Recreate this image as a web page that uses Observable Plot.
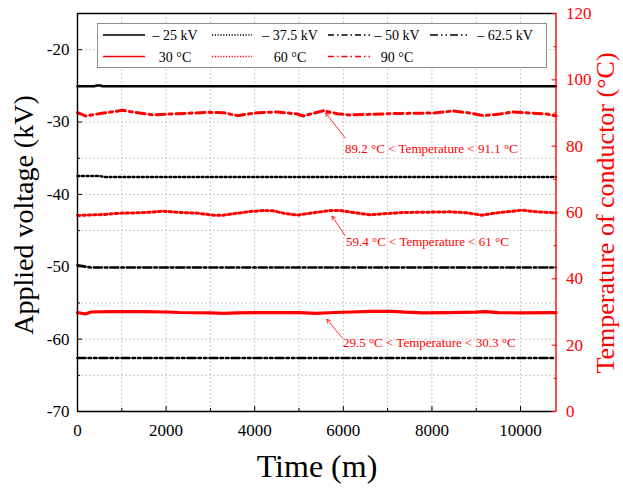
<!DOCTYPE html>
<html><head><meta charset="utf-8">
<script src="https://cdn.jsdelivr.net/npm/d3@7"></script>
<script src="https://cdn.jsdelivr.net/npm/@observablehq/plot@0.6"></script>
<style>
html,body{margin:0;padding:0;background:#fff;}
#chart{width:623px;height:490px;}
</style></head><body><div id="chart"></div>
<script>
// ---- data ----
const xMajor = [0, 2000, 4000, 6000, 8000, 10000];
const xMinor = [1000, 3000, 5000, 7000, 9000];
const yMajor = [-70, -60, -50, -40, -30, -20];
const yMinor = [-65, -55, -45, -35, -25];
const tMajor = [0, 20, 40, 60, 80, 100, 120];
const tMinor = [10, 30, 50, 70, 90, 110];

const vLabels = ["– 25 kV", "– 37.5 kV", "– 50 kV", "– 62.5 kV"];
const tLabels = ["30 °C", "60 °C", "90 °C"];

const v25Time = [0, 380, 430, 520, 560, 10800];
const v25Val  = [-25.05, -25.05, -24.95, -24.95, -25.05, -25.05];
const v375Time = [0, 500, 600, 10800];
const v375Val  = [-37.45, -37.45, -37.6, -37.6];
const v50Time = [0, 300, 10800];
const v50Val  = [-49.8, -50.1, -50.1];
const v625Time = [0, 10800];
const v625Val  = [-62.6, -62.6];

const t90Time = [0,180,586,1014,1353,1713,2097,2480,2931,3291,3607,4058,4509,4959,5095,5546,5861,6154,6605,7056,7507,8025,8476,8859,9152,9536,9829,10212,10595,10800];
const t90Val  = [90.1,89.1,90.0,90.8,90.1,89.4,89.7,89.9,90.2,90.1,89.2,90.1,90.3,89.7,89.1,90.7,89.8,89.4,89.6,89.8,89.9,90.0,90.6,90.0,89.2,89.7,90.3,90.0,89.7,89.1];

const t60Time = [0,586,969,1353,1646,1939,2322,2705,3066,3291,3607,3900,4193,4418,4644,4959,5253,5478,5703,5929,6222,6605,6988,7349,7890,8408,8792,9130,9468,9761,10032,10370,10800];
const t60Val  = [59.1,59.4,59.8,59.9,60.1,60.4,60.0,59.8,59.2,59.2,59.8,60.3,60.6,60.5,59.8,59.2,59.8,60.2,60.6,60.6,60.0,59.3,59.7,60.0,60.1,60.2,59.9,59.2,59.9,60.3,60.7,60.2,59.9];

const t30Time = [0,180,300,700,1500,2000,2300,3000,3300,3600,4000,5000,5400,5800,6200,6600,7100,7400,7800,8400,9000,9200,9500,10000,10800];
const t30Val  = [29.85,29.4,30.0,30.1,30.1,30.0,29.85,29.75,29.6,29.75,29.8,29.8,29.6,29.85,30.0,30.2,30.2,29.95,29.75,29.8,29.95,30.1,29.8,29.75,29.8];

const annText = ["89.2 °C < Temperature < 91.1 °C", "59.4 °C < Temperature < 61 °C", "29.5 °C < Temperature < 30.3 °C"];
const annTextT = [6040, 6060, 5990];
const annTextTemp = [79.2, 51.2, 20.7];
const annTailT = [6040, 6040, 5970];
const annTailTemp = [82.5, 53.0, 22.3];
const annHeadT = [5600, 5745, 5630];
const annHeadTemp = [90.0, 58.9, 27.8];

// ---- helpers ----
const toV = T => -70 + T * 55 / 120;
const toT = v => (v + 70) * 120 / 55;
const RED = "#ff0000";
const zip = (ts, vs) => ts.map((t, i) => ({t, v: vs[i]}));
const zipT = (ts, vs) => ts.map((t, i) => ({t, v: toV(vs[i])}));

const series = [
  {data: zip(v25Time, v25Val), stroke: "#000", w: 2.6, dash: null},
  {data: zip(v375Time, v375Val), stroke: "#000", w: 2.4, dash: "2,2.6"},
  {data: zip(v50Time, v50Val), stroke: "#000", w: 2.6, dash: "8,3,2.5,3"},
  {data: zip(v625Time, v625Val), stroke: "#000", w: 2.6, dash: "8,3,2.5,3,2.5,3"},
  {data: zipT(t30Time, t30Val), stroke: RED, w: 3.2, dash: null},
  {data: zipT(t60Time, t60Val), stroke: RED, w: 3, dash: "2.4,3"},
  {data: zipT(t90Time, t90Val), stroke: RED, w: 3, dash: "9,4,3,4"}
];

const ann = annText.map((s, i) => ({
  s, x: annTextT[i], y: toV(annTextTemp[i]),
  x1: annTailT[i], y1: toV(annTailTemp[i]), x2: annHeadT[i], y2: toV(annHeadTemp[i])
}));

const grid = {stroke: "#c8c8c8", strokeWidth: 1, strokeDasharray: "2,2"};

const chart = Plot.plot({
  width: 623, height: 490,
  marginLeft: 77, marginRight: 67.5, marginTop: 13, marginBottom: 79,
  style: {fontFamily: "'Liberation Serif', 'Times New Roman', serif", fontSize: "17px", background: "#fff", color: "#000"},
  x: {domain: [0, 10800]},
  y: {domain: [-70, -15]},
  marks: [
    Plot.ruleY([...yMinor, ...yMajor.filter(d => d > -70)], grid),
    Plot.ruleX([...xMinor, ...xMajor.filter(d => d > 0)], grid),
    ...series.map(s => Plot.line(s.data, {x: "t", y: "v", stroke: s.stroke, strokeWidth: s.w, strokeDasharray: s.dash})),
    Plot.ruleX([0], {stroke: "#000", strokeWidth: 1.4}),
    Plot.ruleY([-70], {stroke: "#000", strokeWidth: 1.4}),
    Plot.ruleY([-15], {stroke: "#000", strokeWidth: 1.4}),
    Plot.ruleX([10800], {stroke: RED, strokeWidth: 1.4}),
    Plot.axisX(xMajor, {anchor: "bottom", tickSize: -5, tickPadding: 17, tickFormat: d => String(d), fontSize: 17, label: null}),
    Plot.axisX(xMinor, {anchor: "bottom", tickSize: -3, tickFormat: () => "", label: null}),
    Plot.axisY(yMajor, {anchor: "left", tickSize: -5, tickPadding: 13, tickFormat: d => String(d), fontSize: 17, label: null}),
    Plot.axisY(yMinor, {anchor: "left", tickSize: -3, tickFormat: () => "", label: null}),
    Plot.axisY(tMajor.map(toV), {anchor: "right", tickSize: -5, tickPadding: 15, stroke: RED, fill: RED, tickFormat: v => String(Math.round(toT(v))), fontSize: 17, label: null}),
    Plot.axisY(tMinor.map(toV), {anchor: "right", tickSize: -3, stroke: RED, fill: RED, tickFormat: () => "", label: null}),
    Plot.arrow(ann, {x1: "x1", y1: "y1", x2: "x2", y2: "y2", stroke: RED, strokeWidth: 0.8, headLength: 7, bend: 0}),
    Plot.text(ann, {x: "x", y: "y", text: "s", fill: RED, fontSize: 13, textAnchor: "start"})
  ]
});
document.getElementById("chart").appendChild(chart);

// ---- titles & legend ----
const svg = d3.select(chart);
const font = "'Liberation Serif', 'Times New Roman', serif";
svg.append("text").attr("transform", "translate(33,215) rotate(-90)")
  .attr("text-anchor", "middle").attr("font-family", font).attr("font-size", 28).attr("fill", "#000")
  .text("Applied voltage (kV)");
svg.append("text").attr("transform", "translate(614,213) rotate(-90)")
  .attr("text-anchor", "middle").attr("font-family", font).attr("font-size", 26).attr("fill", RED)
  .text("Temperature of conductor (°C)");
svg.append("text").attr("x", 317).attr("y", 477)
  .attr("text-anchor", "middle").attr("font-family", font).attr("font-size", 32).attr("fill", "#000")
  .text("Time (m)");

const lg = svg.append("g");
lg.append("rect").attr("x", 97.5).attr("y", 23.5).attr("width", 449).attr("height", 44)
  .attr("fill", "#fff").attr("stroke", "#8c8c8c").attr("stroke-width", 1);
const cols = [[103, 145, 175], [212, 252, 290], [328, 370, 397], [430, 468, 505]];
const legendItems = [
  ...vLabels.map((l, i) => ({l, row: 0, col: i, stroke: "#000", dash: [null, "1.2,1.6", "6,3,1.5,3", "8,3,1.5,3,1.5,3"][i]})),
  ...tLabels.map((l, i) => ({l, row: 1, col: i, stroke: RED, dash: [null, "1.2,1.6", "6,3,1.5,3"][i]}))
];
legendItems.forEach(d => {
  const y = d.row === 0 ? 35 : 56.5;
  const c = cols[d.col];
  lg.append("line").attr("x1", c[0]).attr("x2", c[1]).attr("y1", y).attr("y2", y)
    .attr("stroke", d.stroke).attr("stroke-width", 1.6).attr("stroke-dasharray", d.dash);
  lg.append("text").attr("x", c[2]).attr("y", y + 5).attr("text-anchor", "middle")
    .attr("font-family", font).attr("font-size", 14).attr("fill", "#000").text(d.l);
});
</script></body></html>
